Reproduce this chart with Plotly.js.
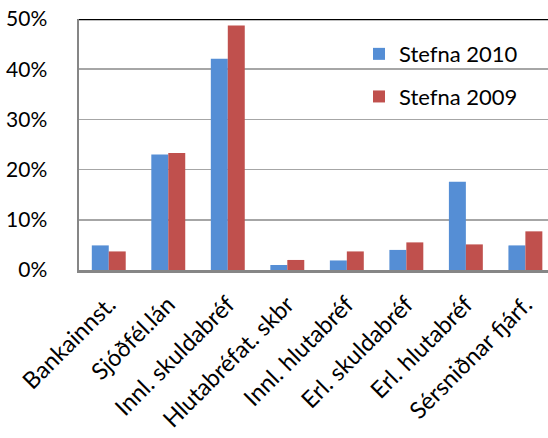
<!DOCTYPE html>
<html>
<head>
<meta charset="utf-8">
<script src="https://cdn.plot.ly/plotly-3.0.1.min.js"></script>
<style>html,body{margin:0;padding:0;background:#fff;}#chart{width:548px;height:438px;}</style>
</head>
<body>
<div id="chart"></div>
<script>
const categories = ["Bankainnst.", "Sjóðfél.lán", "Innl. skuldabréf", "Hlutabréfat. skbr", "Innl. hlutabréf", "Erl. skuldabréf", "Erl. hlutabréf", "Sérsniðnar fjárf."];
const stefna2010 = [0.049, 0.230, 0.421, 0.010, 0.019, 0.040, 0.176, 0.049];
const stefna2009 = [0.037, 0.233, 0.487, 0.020, 0.037, 0.055, 0.051, 0.077];
const yTickVals = [0, 0.1, 0.2, 0.3, 0.4, 0.5];
const yTickText = ["0%", "10%", "20%", "30%", "40%", "50%"];

const FONT = "Lato, 'Open Sans', sans-serif";

const traces = [
  {type: "bar", name: "Stefna 2010", x: categories, y: stefna2010, legendgroup: "a",
   marker: {color: "#558ED5"}, hoverinfo: "none"},
  {type: "bar", name: "Stefna 2009", x: categories, y: stefna2009, legendgroup: "b",
   marker: {color: "#C0504D"}, hoverinfo: "none"}
];

const layout = {
  width: 548, height: 438,
  margin: {l: 79, r: 0, t: 19, b: 168, pad: 0},
  paper_bgcolor: "#fff", plot_bgcolor: "#fff",
  font: {family: FONT, size: 22, color: "#000"},
  barmode: "group", bargap: 0.43, bargroupgap: 0,
  showlegend: true,
  legend: {x: 0.597, y: 0.944, xanchor: "left", yanchor: "top",
           bgcolor: "rgba(0,0,0,0)", borderwidth: 0,
           traceorder: "grouped", tracegroupgap: 11, itemwidth: 30,
           font: {family: FONT, size: 22, color: "#000"}},
  xaxis: {type: "category", range: [-0.5, 7.38], tickangle: -45,
          showline: true, linecolor: "#868686", linewidth: 2.5,
          showgrid: false, ticks: "outside", ticklen: 9, tickcolor: "rgba(0,0,0,0)",
          tickfont: {family: FONT, size: 23.5, color: "#000"}, fixedrange: true},
  yaxis: {range: [0, 0.5], tickvals: yTickVals, ticktext: yTickText,
          showline: true, linecolor: "#868686", linewidth: 2.5,
          showgrid: true, gridcolor: "#A6A6A6", gridwidth: 1.5, zeroline: false,
          ticks: "outside", ticklen: 25, tickcolor: "rgba(0,0,0,0)",
          tickfont: {family: FONT, size: 21, color: "#000"}, fixedrange: true},
  shapes: [{type: "line", xref: "paper", yref: "y", x0: 0, x1: 1, y0: 0.5, y1: 0.5,
            line: {color: "#000", width: 2.5}}]
};

Plotly.newPlot("chart", traces, layout, {displayModeBar: false, staticPlot: true});
</script>
</body>
</html>
